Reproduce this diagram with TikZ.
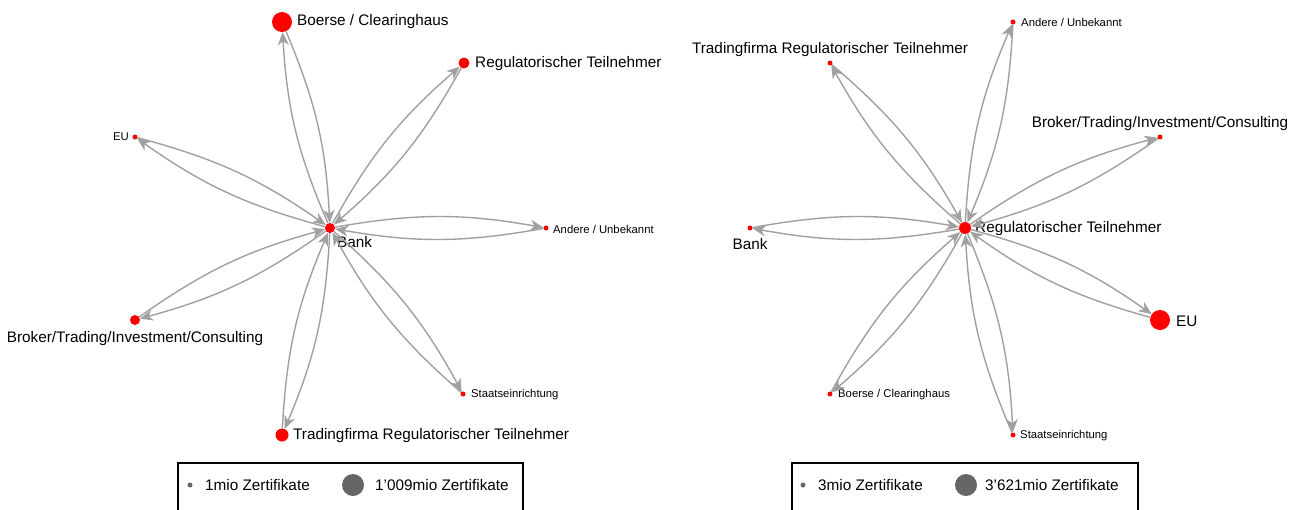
\documentclass[tikz,border=0pt]{standalone}
\usepackage{fontspec}
\setmainfont{Liberation Sans}
\usetikzlibrary{arrows.meta}
\definecolor{edgegray}{HTML}{A0A0A0}
\definecolor{legendgray}{HTML}{666666}

\tikzset{
  vtx/.style={circle, fill=red, draw=none, inner sep=0pt, minimum size=#1},
  link/.style={draw=edgegray, line width=1.4pt, bend left=10,
    -{Stealth[length=13pt, width=11pt, inset=4pt, color=edgegray]}},
  biglabel/.style={font=\fontsize{15.3}{17}\selectfont, inner sep=0pt},
  smalllabel/.style={font=\fontsize{11.3}{13}\selectfont, inner sep=0pt},
  legdot/.style={circle, fill=legendgray, draw=none, inner sep=0pt, minimum size=#1},
  legbox/.style={draw=black, line width=1.3pt},
}

\begin{document}
\begin{tikzpicture}[x=1pt, y=-1pt]
\useasboundingbox (0,0) rectangle (1300,509);

% ---------------- left network: Bank ----------------
\node[vtx=10pt] (lbank)   at (330,228) {};
\node[vtx=20pt] (lboerse) at (282,22)  {};
\node[vtx=11pt] (lreg)    at (464,63)  {};
\node[vtx=5pt]  (leu)     at (135,137) {};
\node[vtx=5pt]  (landere) at (546,228) {};
\node[vtx=10pt] (lbroker) at (135,320) {};
\node[vtx=5pt]  (lstaat)  at (463,394) {};
\node[vtx=13pt] (ltrade)  at (282,435) {};

\node[biglabel, anchor=west] (lbanktxt)   at (337,242) {Bank};
\node[biglabel, anchor=west] (lboersetxt) at (297,22)  {Boerse / Clearinghaus};
\node[biglabel, anchor=west] (lregtxt)    at (475,64)  {Regulatorischer Teilnehmer};
\node[smalllabel, anchor=east] (leutxt)   at (129,137) {EU};
\node[smalllabel, anchor=west] (landeretxt) at (553,229) {Andere / Unbekannt};
\node[biglabel] (lbrokertxt) at (135,339) {Broker/Trading/Investment/Consulting};
\node[smalllabel, anchor=west] (lstaattxt) at (471,395) {Staatseinrichtung};
\node[biglabel, anchor=west] (ltradetxt)  at (293,436) {Tradingfirma Regulatorischer Teilnehmer};

\foreach \n in {lboerse, lreg, leu, landere, lbroker, lstaat, ltrade} {
  \draw[link] (lbank) to (\n);
  \draw[link] (\n) to (lbank);
}

% ---------------- right network: Regulatorischer Teilnehmer ----------------
\node[vtx=12pt] (rreg)    at (965,228)  {};
\node[vtx=5pt]  (randere) at (1013,22)  {};
\node[vtx=5pt]  (rtrade)  at (830,63)   {};
\node[vtx=5pt]  (rbroker) at (1160,137) {};
\node[vtx=5pt]  (rbank)   at (750,228)  {};
\node[vtx=20pt] (reu)     at (1160,320) {};
\node[vtx=5pt]  (rboerse) at (830,394)  {};
\node[vtx=5pt]  (rstaat)  at (1013,435) {};

\node[biglabel, anchor=west] (rregtxt)     at (975,229)  {Regulatorischer Teilnehmer};
\node[smalllabel, anchor=west] (randeretxt) at (1021,22) {Andere / Unbekannt};
\node[biglabel] (rtradetxt)  at (830,50)   {Tradingfirma Regulatorischer Teilnehmer};
\node[biglabel] (rbrokertxt) at (1160,124) {Broker/Trading/Investment/Consulting};
\node[biglabel] (rbanktxt)   at (750,244)  {Bank};
\node[biglabel, anchor=west] (reutxt) at (1176,321) {EU};
\node[smalllabel, anchor=west] (rboersetxt) at (838,395) {Boerse / Clearinghaus};
\node[smalllabel, anchor=west] (rstaattxt)  at (1020,436) {Staatseinrichtung};

\foreach \n in {randere, rtrade, rbroker, rbank, reu, rboerse, rstaat} {
  \draw[link] (rreg) to (\n);
  \draw[link] (\n) to (rreg);
}

% ---------------- legends ----------------
\draw[legbox] (178,510) -- (178,463) -- (523,463) -- (523,510);
\node[legdot=5pt]  (lsmall) at (190,485) {};
\node[biglabel, anchor=west] (lsmalltxt) at (205,485) {1mio Zertifikate};
\node[legdot=22pt] (lbig)   at (353,485) {};
\node[biglabel, anchor=west] (lbigtxt) at (375,485) {1'009mio Zertifikate};

\draw[legbox] (792,510) -- (792,463) -- (1138,463) -- (1138,510);
\node[legdot=5pt]  (rsmall) at (803,485) {};
\node[biglabel, anchor=west] (rsmalltxt) at (818,485) {3mio Zertifikate};
\node[legdot=22pt] (rbig)   at (966,485) {};
\node[biglabel, anchor=west] (rbigtxt) at (985,485) {3'621mio Zertifikate};
\end{tikzpicture}
\end{document}
